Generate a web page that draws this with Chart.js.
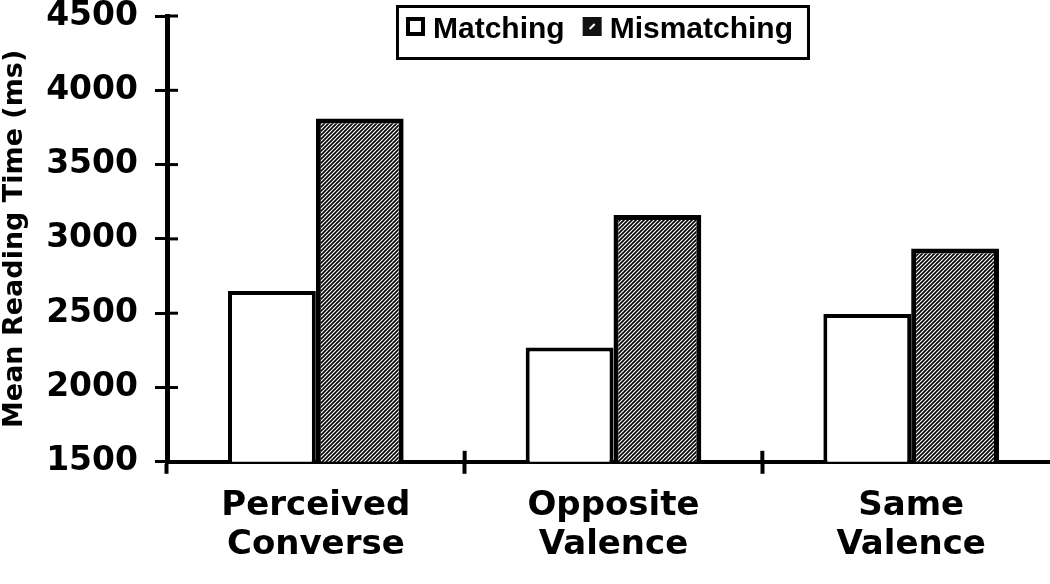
<!DOCTYPE html>
<html>
<head>
<meta charset="utf-8">
<script src="https://cdn.jsdelivr.net/npm/chart.js@4"></script>
<style>
  html, body { margin: 0; padding: 0; background: #fff; overflow: hidden; }
  #wrap { width: 1050px; height: 584px; overflow: hidden; position: relative; }
  canvas { display: block; }
</style>
</head>
<body>
<div id="wrap"><canvas id="c" width="1070" height="584"></canvas></div>
<script>
const categories = [['Perceived', 'Converse'], ['Opposite', 'Valence'], ['Same', 'Valence']];
const seriesNames = ['Matching', 'Mismatching'];
const matching = [2650, 2270, 2495];
const mismatching = [3810, 3160, 2935];
const yMin = 1500, yMax = 4500, yStep = 500;
const yTitle = 'Mean Reading Time (ms)';

const canvas = document.getElementById('c');
const ctx = canvas.getContext('2d');

function makeHatch() {
  const t = document.createElement('canvas');
  t.width = 4; t.height = 4;
  const g = t.getContext('2d');
  g.fillStyle = '#fff'; g.fillRect(0, 0, 4, 4);
  g.strokeStyle = '#000'; g.lineWidth = 1.6;
  g.beginPath();
  g.moveTo(0, 4); g.lineTo(4, 0);
  g.moveTo(-1, 1); g.lineTo(1, -1);
  g.moveTo(3, 5); g.lineTo(5, 3);
  g.stroke();
  return ctx.createPattern(t, 'repeat');
}
const hatch = makeHatch();

const crossTicks = {
  id: 'crossTicks',
  afterDraw(chart) {
    const c = chart.ctx, a = chart.chartArea, ys = chart.scales.y, xs = chart.scales.x;
    c.save();
    c.strokeStyle = '#000';
    c.lineWidth = 3;
    ys.ticks.forEach((t, i) => {
      const py = ys.getPixelForTick(i);
      c.beginPath(); c.moveTo(a.left, py); c.lineTo(a.left + 11, py); c.stroke();
    });
    c.lineWidth = 4;
    for (let i = 1; i < xs.ticks.length; i++) {
      const px = (xs.getPixelForTick(i - 1) + xs.getPixelForTick(i)) / 2;
      c.beginPath(); c.moveTo(px, a.bottom); c.lineTo(px, a.bottom - 11); c.stroke();
    }
    c.restore();
  }
};

const boxLegend = {
  id: 'boxLegend',
  afterDraw(chart) {
    const c = chart.ctx, a = chart.chartArea;
    const bx = a.left + 229, by = 5, bw = 414, bh = 55;
    c.save();
    c.fillStyle = '#fff';
    c.fillRect(bx, by, bw, bh);
    c.strokeStyle = '#000';
    c.lineWidth = 3;
    c.strokeRect(bx + 1.5, by + 1.5, bw - 3, bh - 3);
    c.font = 'bold 30px "Liberation Sans", Arial, sans-serif';
    c.textBaseline = 'alphabetic';
    c.textAlign = 'left';
    let x = bx + 10;
    chart.data.datasets.forEach((ds, i) => {
      const s = 19, iy = 17;
      if (i === 0) {
        c.fillStyle = '#fff';
        c.fillRect(x, iy, s, s);
        c.lineWidth = 4;
        c.strokeRect(x + 2, iy + 2, s - 4, s - 4);
      } else {
        c.fillStyle = '#111';
        c.fillRect(x, iy, s, s);
        c.strokeStyle = '#fff';
        c.lineWidth = 2;
        c.beginPath(); c.moveTo(x + 7, iy + 12); c.lineTo(x + 12, iy + 7); c.stroke();
        c.strokeStyle = '#000';
      }
      x += s + 8;
      c.fillStyle = '#000';
      c.fillText(ds.label, x, 38);
      x += c.measureText(ds.label).width + 18;
    });
    c.restore();
  }
};

new Chart(ctx, {
  type: 'bar',
  data: {
    labels: categories,
    datasets: [
      {
        label: seriesNames[0],
        data: matching,
        backgroundColor: '#fff',
        borderColor: '#000',
        borderWidth: 4,
        borderSkipped: 'bottom',
        categoryPercentage: 0.59,
        barPercentage: 1.0
      },
      {
        label: seriesNames[1],
        data: mismatching,
        backgroundColor: hatch,
        borderColor: '#000',
        borderWidth: 5,
        borderSkipped: 'bottom',
        categoryPercentage: 0.59,
        barPercentage: 1.0
      }
    ]
  },
  options: {
    responsive: false,
    animation: false,
    devicePixelRatio: 1,
    layout: { padding: { left: 0, top: 0, right: 10, bottom: 6 } },
    plugins: { legend: { display: false }, tooltip: { enabled: false } },
    scales: {
      x: {
        offset: true,
        grid: { offset: true, drawOnChartArea: false, drawTicks: true, tickLength: 12, tickWidth: 4, tickColor: '#000' },
        border: { display: true, color: '#000', width: 4 },
        ticks: {
          color: '#000',
          font: { family: '"DejaVu Sans", sans-serif', weight: 'bold', size: 34, lineHeight: 1.15 },
          padding: 13,
          maxRotation: 0,
          autoSkip: false
        }
      },
      y: {
        min: yMin,
        max: yMax,
        afterFit(scale) { scale.width = 167; scale.paddingTop = 16; scale.paddingBottom = 0; },
        grid: { drawOnChartArea: false, drawTicks: true, tickLength: 12, tickWidth: 3, tickColor: '#000' },
        border: { display: true, color: '#000', width: 5 },
        ticks: {
          stepSize: yStep,
          color: '#000',
          padding: 17,
          callback: (v) => String(v),
          font: { family: '"DejaVu Sans", sans-serif', weight: 'bold', size: 33, lineHeight: 0.95 }
        },
        title: {
          display: true,
          text: yTitle,
          color: '#000',
          padding: 0,
          font: { family: '"DejaVu Sans", sans-serif', weight: 'bold', size: 27, lineHeight: 1.1 }
        }
      }
    }
  },
  plugins: [crossTicks, boxLegend]
});
</script>
</body>
</html>
